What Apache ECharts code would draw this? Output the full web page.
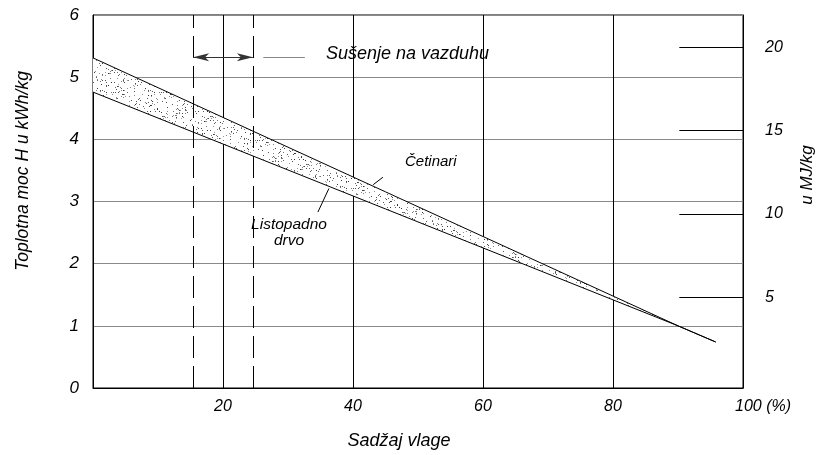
<!DOCTYPE html>
<html>
<head>
<meta charset="utf-8">
<script src="https://cdn.jsdelivr.net/npm/echarts@6/dist/echarts.min.js"></script>
<style>html,body{margin:0;padding:0;background:#fff}#c{width:819px;height:455px}</style>
</head>
<body>
<div id="c"></div>
<script>
// ---- data ----
const moisture = [0, 90, 95.8];              // Sadržaj vlage (%)
const upperBound = [5.31, 1.0, 0.74];        // Četinari (kWh/kg)
const lowerBound = [4.76, 1.0, 0.74];        // Listopadno drvo (kWh/kg)
const airDryRange = [15.4, 24.6];            // Sušenje na vazduhu (%)
const xTicks = [0, 20, 40, 60, 80, 100];
const leftTicks = [0, 1, 2, 3, 4, 5, 6];
const mjTicks = [5, 10, 15, 20];             // u MJ/kg

const FONT = 'Liberation Sans';

// stipple pattern (deterministic)
function makeStipple() {
  const cv = document.createElement('canvas');
  cv.width = 48; cv.height = 48;
  const ctx = cv.getContext('2d');
  ctx.fillStyle = '#ffffff';
  ctx.fillRect(0, 0, 48, 48);
  let s = 12345;
  const rnd = () => { s = (s * 1103515245 + 12345) & 0x7fffffff; return s / 0x7fffffff; };
  for (let i = 0; i < 190; i++) {
    const g = Math.floor(50 + rnd() * 110);
    ctx.fillStyle = 'rgb(' + g + ',' + g + ',' + g + ')';
    ctx.fillRect(Math.floor(rnd() * 48), Math.floor(rnd() * 48), 1, 1);
  }
  return cv;
}
const stipple = makeStipple();

const upperPts = moisture.map((m, i) => [m, upperBound[i]]);
const lowerPts = moisture.map((m, i) => [m, lowerBound[i]]);

const chart = echarts.init(document.getElementById('c'), null, { renderer: 'canvas' });

const lblStyle = { fontFamily: FONT, fontStyle: 'italic', color: '#000' };

chart.setOption({
  animation: false,
  backgroundColor: '#fff',
  grid: { left: 93, right: 76, top: 15, bottom: 67, show: true, borderColor: '#000', borderWidth: 1, backgroundColor: 'transparent' },
  xAxis: {
    type: 'value', min: xTicks[0], max: xTicks[xTicks.length - 1], interval: 20,
    axisLine: { show: true, lineStyle: { color: '#000', width: 1 } },
    axisTick: { show: false },
    splitLine: { show: true, lineStyle: { color: '#000', width: 1 } },
    axisLabel: {
      ...lblStyle, fontSize: 16, margin: 11,
      formatter: v => v === 0 ? '' : (v === 100 ? '{p|100 (%)}' : String(v)),
      rich: { p: { ...lblStyle, fontSize: 16, padding: [0, 0, 0, 40] } }
    }
  },
  yAxis: [{
    type: 'value', min: leftTicks[0], max: leftTicks[leftTicks.length - 1], interval: 1,
    axisLine: { show: true, lineStyle: { color: '#000', width: 1 } },
    axisTick: { show: false },
    splitLine: { show: true, lineStyle: { color: '#8a8a8a', width: 1 } },
    axisLabel: { ...lblStyle, fontSize: 17, margin: 14 }
  }, {
    type: 'value', min: -0.45, max: 21.94, position: 'right',
    axisLine: { show: true, lineStyle: { color: '#000', width: 1 } },
    axisTick: { show: false },
    splitLine: { show: false },
    axisLabel: { ...lblStyle, fontSize: 16, margin: 22, customValues: mjTicks, align: 'left' }
  }],
  series: [
    {
      type: 'custom',
      xAxisIndex: 0, yAxisIndex: 0,
      data: [0],
      silent: true,
      z: 3,
      renderItem: function (params, api) {
        const pts = upperPts.map(p => api.coord(p)).concat(lowerPts.slice().reverse().map(p => api.coord(p)));
        return {
          type: 'polygon',
          shape: { points: pts },
          style: { fill: { image: stipple, repeat: 'repeat' }, stroke: 'none' }
        };
      }
    },
    {
      type: 'line', data: upperPts, symbol: 'none', z: 4,
      lineStyle: { color: '#000', width: 1 },
      markLine: {
        silent: true, symbol: 'none', label: { show: false },
        lineStyle: { color: '#000', width: 1, type: 'solid' },
        data: [
          [{ coord: [43.1, 3.27] }, { coord: [44.6, 3.39] }],
          [{ coord: [34.6, 2.83] }, { coord: [36.3, 3.21] }]
        ]
      }
    },
    {
      type: 'line', data: lowerPts, symbol: 'none', z: 4,
      lineStyle: { color: '#000', width: 1 },
      markLine: {
        silent: true, symbol: 'none', label: { show: false },
        data: [
          { xAxis: airDryRange[0], lineStyle: { color: '#000', width: 1, type: [22, 8] } },
          { xAxis: airDryRange[1], lineStyle: { color: '#000', width: 1, type: [22, 8] } },
          [{ coord: [airDryRange[0], 5.32], symbol: 'arrow', symbolSize: [6, 16], symbolRotate: 90 },
           { coord: [airDryRange[1], 5.32], symbol: 'arrow', symbolSize: [6, 16], symbolRotate: -90,
             lineStyle: { color: '#333', width: 1, type: 'solid' } }],
          [{ coord: [26.2, 5.32] }, { coord: [32.6, 5.32], lineStyle: { color: '#888', width: 1, type: 'solid' } }]
        ]
      }
    },
    {
      type: 'line', xAxisIndex: 0, yAxisIndex: 1, data: [], symbol: 'none',
      markLine: {
        silent: true, symbol: 'none', label: { show: false },
        lineStyle: { color: '#000', width: 1, type: 'solid' },
        data: mjTicks.map(t => [{ coord: [90.2, t] }, { coord: [100, t] }])
      }
    }
  ],
  graphic: [
    { type: 'text', left: 326, top: 45, style: { text: 'Sušenje na vazduhu', font: 'italic 18px ' + FONT, fill: '#000' }, z: 10 },
    { type: 'text', left: 405, top: 154, style: { text: 'Četinari', font: 'italic 15px ' + FONT, fill: '#000' }, z: 10 },
    { type: 'text', x: 289, y: 233, style: { text: 'Listopadno\ndrvo', font: 'italic 15.5px ' + FONT, fill: '#000', align: 'center', verticalAlign: 'middle', lineHeight: 16 }, z: 10 },
    { type: 'text', x: 23, y: 171, rotation: Math.PI / 2, style: { text: 'Toplotna moc H u kWh/kg', font: 'italic 17.5px ' + FONT, fill: '#000', align: 'center', verticalAlign: 'middle' }, z: 10 },
    { type: 'text', x: 807, y: 175, rotation: Math.PI / 2, style: { text: 'u MJ/kg', font: 'italic 17px ' + FONT, fill: '#000', align: 'center', verticalAlign: 'middle' }, z: 10 },
    { type: 'text', x: 399, y: 441, style: { text: 'Sadžaj vlage', font: 'italic 18px ' + FONT, fill: '#000', align: 'center', verticalAlign: 'middle' }, z: 10 }
  ]
});
</script>
</body>
</html>
